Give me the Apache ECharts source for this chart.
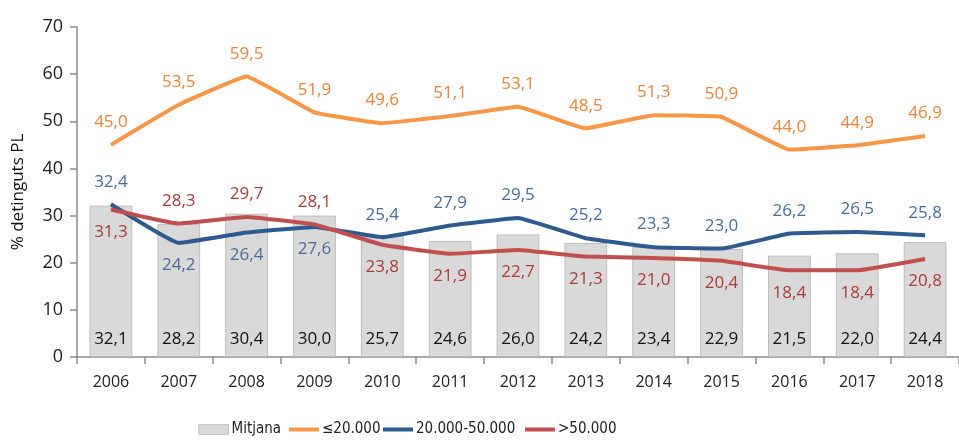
<!DOCTYPE html>
<html>
<head>
<meta charset="utf-8">
<script src="https://cdn.jsdelivr.net/npm/echarts@6/dist/echarts.min.js"></script>
<style>
  html, body { margin: 0; padding: 0; background: #fff; }
  #chart { width: 959px; height: 444px; }
</style>
</head>
<body>
<div id="chart"></div>
<script>
  var years = ['2006', '2007', '2008', '2009', '2010', '2011', '2012', '2013', '2014', '2015', '2016', '2017', '2018'];
  var mitjana = [32.1, 28.2, 30.4, 30.0, 25.7, 24.6, 26.0, 24.2, 23.4, 22.9, 21.5, 22.0, 24.4];
  var small = [45.0, 53.5, 59.5, 51.9, 49.6, 51.1, 53.1, 48.5, 51.3, 50.9, 44.0, 44.9, 46.9];
  var medium = [32.4, 24.2, 26.4, 27.6, 25.4, 27.9, 29.5, 25.2, 23.3, 23.0, 26.2, 26.5, 25.8];
  var large = [31.3, 28.3, 29.7, 28.1, 23.8, 21.9, 22.7, 21.3, 21.0, 20.4, 18.4, 18.4, 20.8];
  // label side for each year (blue / red lines swap around 2007-2009)
  var mediumPos = ['top', 'bottom', 'bottom', 'bottom', 'top', 'top', 'top', 'top', 'top', 'top', 'top', 'top', 'top'];
  var largePos = ['bottom', 'top', 'top', 'top', 'bottom', 'bottom', 'bottom', 'bottom', 'bottom', 'bottom', 'bottom', 'bottom', 'bottom'];

  var font = 'Open Sans';
  var narrow = 'Liberation Sans Narrow, DejaVu Sans Condensed, sans-serif';
  var lineIcon = 'path://M0,0 L30,0 L30,4 L0,4 Z';
  function fmt(p) { return p.value.toFixed(1).replace('.', ','); }

  function withPos(values, pos) {
    return values.map(function (v, i) {
      return { value: v, label: { position: pos[i] } };
    });
  }

  function lineSeries(name, data, color, labelColor) {
    return {
      name: name,
      type: 'line',
      data: data,
      smooth: 0.08,
      symbol: 'circle',
      symbolSize: 0.1,
      lineStyle: { color: color, width: 4 },
      itemStyle: { color: color },
      label: { show: true, position: 'top', distance: 14, formatter: fmt, fontSize: 17, color: labelColor }
    };
  }

  // one legend block per entry, placed like the original
  function legendAt(left, item) {
    return {
      bottom: 2,
      left: left,
      itemWidth: 30,
      itemHeight: 10,
      itemGap: 4,
      textStyle: { fontFamily: narrow, fontSize: 15, color: '#222', padding: [0, 0, 0, -2] },
      data: [item]
    };
  }

  var option = {
    animation: false,
    textStyle: { fontFamily: font },
    grid: { left: 77, right: -8, top: 27, bottom: 87 },
    legend: [
      legendAt(193, { name: 'Mitjana', icon: 'rect', itemStyle: { color: '#d9d9d9', borderColor: '#c8c8c8', borderWidth: 1 } }),
      legendAt(284, { name: '≤20.000', icon: lineIcon }),
      legendAt(378, { name: '20.000-50.000', icon: lineIcon }),
      legendAt(520, { name: '>50.000', icon: lineIcon })
    ],
    xAxis: {
      type: 'category',
      data: years,
      axisLine: { lineStyle: { color: '#8c8c8c', width: 1.5 } },
      axisTick: { show: true, length: 7, lineStyle: { color: '#8c8c8c', width: 1.5 } },
      axisLabel: { fontSize: 16, color: '#222', margin: 17 }
    },
    yAxis: {
      type: 'value',
      min: 0,
      max: 70,
      interval: 10,
      name: '% detinguts PL',
      nameLocation: 'middle',
      nameGap: 50,
      nameTextStyle: { fontSize: 17, color: '#111' },
      axisLine: { show: true, lineStyle: { color: '#8c8c8c', width: 1.5 } },
      axisTick: { show: true, length: 7, lineStyle: { color: '#8c8c8c', width: 1.5 } },
      axisLabel: { fontSize: 18, color: '#222', margin: 14 },
      splitLine: { show: false }
    },
    series: [
      {
        name: 'Mitjana',
        type: 'bar',
        data: mitjana,
        barWidth: '63%',
        itemStyle: { color: '#d9d9d9', borderColor: '#bdbdbd', borderWidth: 1 },
        label: {
          show: true,
          position: 'insideBottom',
          distance: 9,
          formatter: fmt,
          fontSize: 17,
          color: '#111'
        }
      },
      lineSeries('≤20.000', small, '#f79646', '#e8843a'),
      lineSeries('20.000-50.000', withPos(medium, mediumPos), '#2f5a8e', '#4a6c9b'),
      lineSeries('>50.000', withPos(large, largePos), '#c0504d', '#a83c39')
    ]
  };

  echarts.init(document.getElementById('chart')).setOption(option);
</script>
</body>
</html>
